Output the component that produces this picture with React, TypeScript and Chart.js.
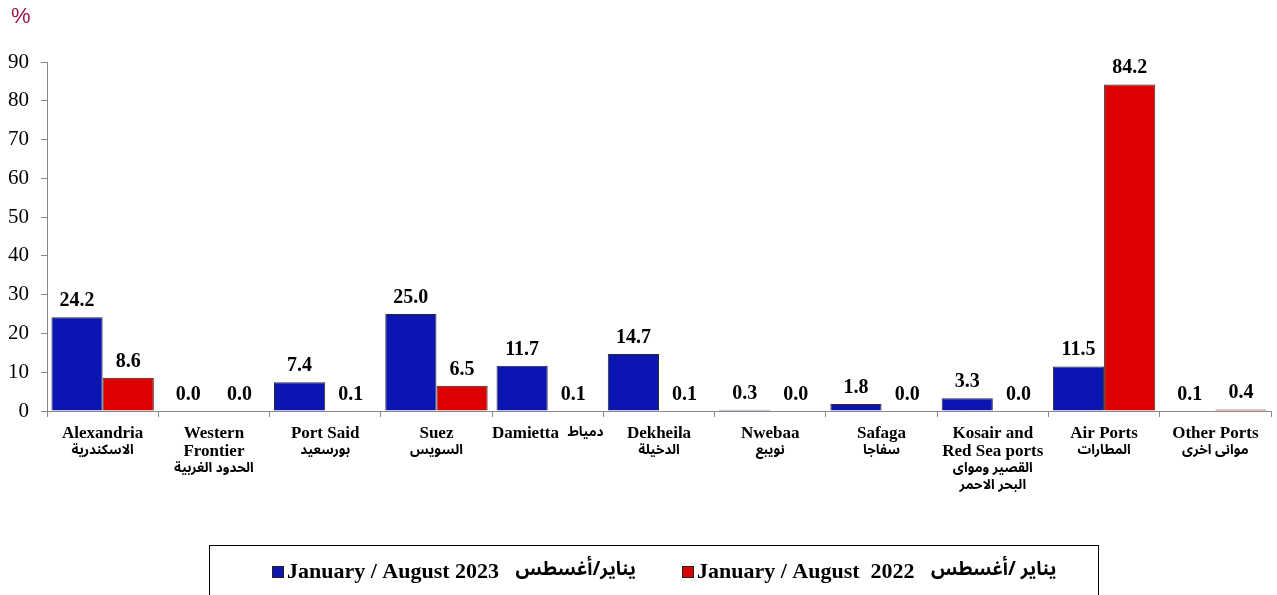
import React, { useEffect, useRef } from "react";
import { Chart, registerables } from "chart.js";

Chart.register(...registerables);

const categories: string[][] = [
  ["Alexandria", "الاسكندرية"],
  ["Western", "Frontier", "الحدود الغربية"],
  ["Port Said", "بورسعيد"],
  ["Suez", "السويس"],
  ["Damietta  دمياط"],
  ["Dekheila", "الدخيلة"],
  ["Nwebaa", "نويبع"],
  ["Safaga", "سفاجا"],
  ["Kosair and", "Red Sea ports", "القصير ومواى", "البحر الاحمر"],
  ["Air Ports", "المطارات"],
  ["Other Ports", "موانى اخرى"],
];

const values2023: number[] = [24.2, 0.0, 7.4, 25.0, 11.7, 14.7, 0.3, 1.8, 3.3, 11.5, 0.1];
const values2022: number[] = [8.6, 0.0, 0.1, 6.5, 0.1, 0.1, 0.0, 0.0, 0.0, 84.2, 0.4];

const label2023 = "January / August 2023   يناير/أغسطس";
const label2022 = "January / August  2022   يناير /أغسطس";

const yTicks: number[] = [0, 10, 20, 30, 40, 50, 60, 70, 80, 90];

const BLUE = "#0B16B2";
const RED = "#DC0000";
const SERIF = "'Liberation Serif', 'Times New Roman', serif";
const ARABIC = "'Noto Sans Arabic', 'DejaVu Sans', sans-serif";

const AR_RE = /[\u0600-\u06FF]/;

function splitRuns(text: string): { t: string; ar: boolean }[] {
  const runs: { t: string; ar: boolean }[] = [];
  const re = /([\u0600-\u06FF][\u0600-\u06FF\s\/]*)|([^\u0600-\u06FF]+)/g;
  let m: RegExpExecArray | null;
  while ((m = re.exec(text))) {
    runs.push({ t: m[0], ar: AR_RE.test(m[0]) });
  }
  return runs;
}

function drawMixed(ctx: any, text: string, x: number, y: number, enFont: string, arFont: string, align: "center" | "left") {
  const runs = splitRuns(text);
  const widths = runs.map((r) => {
    ctx.font = r.ar ? arFont : enFont;
    return ctx.measureText(r.t).width;
  });
  const total = widths.reduce((a, b) => a + b, 0);
  let cx = align === "center" ? x - total / 2 : x;
  ctx.textAlign = "left";
  runs.forEach((r, i) => {
    ctx.font = r.ar ? arFont : enFont;
    ctx.fillText(r.t, cx, y);
    cx += widths[i];
  });
  return total;
}

const valueLabelPlugin = {
  id: "valueLabels",
  afterDatasetsDraw(chart: any) {
    const ctx = chart.ctx;
    ctx.save();
    ctx.font = "bold 20px " + SERIF;
    ctx.fillStyle = "#000";
    ctx.textAlign = "center";
    ctx.textBaseline = "alphabetic";
    chart.data.datasets.forEach((ds: any, di: number) => {
      const meta = chart.getDatasetMeta(di);
      meta.data.forEach((bar: any, i: number) => {
        const v = ds.data[i] as number;
        ctx.fillText(v.toFixed(1), bar.x, bar.y - 11);
      });
    });
    ctx.restore();
  },
};

const xLabelPlugin = {
  id: "xLabels",
  afterDraw(chart: any) {
    const ctx = chart.ctx;
    const xs = chart.scales.x;
    const base = chart.chartArea.bottom;
    ctx.save();
    ctx.fillStyle = "#000";
    ctx.textBaseline = "middle";
    (chart.data.labels as string[][]).forEach((lines, i) => {
      const cx = xs.getPixelForTick(i);
      lines.forEach((line, li) => {
        const y = base + 23 + li * 17.8;
        drawMixed(ctx, line, cx, y, "bold 17px " + SERIF, "bold 13.5px " + ARABIC, "center");
      });
    });
    ctx.restore();
  },
};

const decorPlugin = {
  id: "decor",
  afterDraw(chart: any) {
    const ctx = chart.ctx;
    ctx.save();
    ctx.font = "22px 'Liberation Sans', Arial, sans-serif";
    ctx.fillStyle = "#9E1448";
    ctx.textAlign = "left";
    ctx.textBaseline = "middle";
    ctx.fillText("%", 11, 17);

    ctx.strokeStyle = "#000";
    ctx.lineWidth = 1;
    ctx.strokeRect(209.5, 545.5, 889, 80);

    ctx.textBaseline = "middle";
    const items = chart.data.datasets.map((ds: any) => ({ text: ds.label, color: ds.backgroundColor }));
    const starts = [272, 682];
    const y = 572;
    items.forEach((it: any, i: number) => {
      const x = starts[i];
      ctx.fillStyle = it.color;
      ctx.fillRect(x, y - 6, 12, 12);
      ctx.strokeStyle = "#222";
      ctx.strokeRect(x + 0.5, y - 5.5, 11, 11);
      ctx.fillStyle = "#000";
      drawMixed(ctx, it.text, x + 15, y, "bold 22px " + SERIF, "bold 19px " + ARABIC, "left");
    });
    ctx.restore();
  },
};

export default function App() {
  const canvasRef = useRef<HTMLCanvasElement | null>(null);

  useEffect(() => {
    if (!canvasRef.current) return;
    const chart = new Chart(canvasRef.current, {
      type: "bar",
      data: {
        labels: categories,
        datasets: [
          {
            label: label2023,
            data: values2023,
            backgroundColor: BLUE,
            borderColor: "#2a2a2a",
            borderWidth: 1,
            categoryPercentage: 0.92,
            barPercentage: 1.0,
          },
          {
            label: label2022,
            data: values2022,
            backgroundColor: RED,
            borderColor: "#2a2a2a",
            borderWidth: 1,
            categoryPercentage: 0.92,
            barPercentage: 1.0,
          },
        ],
      },
      options: {
        responsive: false,
        animation: false,
        maintainAspectRatio: false,
        layout: { padding: { top: 62, left: 0, right: 6, bottom: 94 } },
        plugins: {
          legend: { display: false },
          tooltip: { enabled: false },
          title: { display: false },
        },
        scales: {
          x: {
            grid: {
              offset: true,
              drawOnChartArea: false,
              drawTicks: true,
              tickLength: 6,
              color: "#888",
            },
            border: { color: "#888", width: 1 },
            ticks: { display: false, autoSkip: false },
            afterFit(scale: any) {
              scale.height = 90;
            },
          },
          y: {
            min: 0,
            max: 90,
            afterBuildTicks(scale: any) {
              scale.ticks = yTicks.map((v) => ({ value: v }));
            },
            grid: {
              drawOnChartArea: false,
              drawTicks: true,
              tickLength: 6,
              color: "#888",
            },
            border: { color: "#888", width: 1 },
            ticks: {
              color: "#000",
              padding: 12,
              font: { family: SERIF, size: 21 },
            },
            afterFit(scale: any) {
              scale.width = 47;
            },
          },
        },
      },
      plugins: [valueLabelPlugin, xLabelPlugin, decorPlugin],
    });
    return () => chart.destroy();
  }, []);

  return (
    <div style={{ position: "fixed", left: 0, top: 0, width: 1277, height: 595, background: "#fff" }}>
      <canvas ref={canvasRef} width={1277} height={595} style={{ display: "block" }} />
    </div>
  );
}
